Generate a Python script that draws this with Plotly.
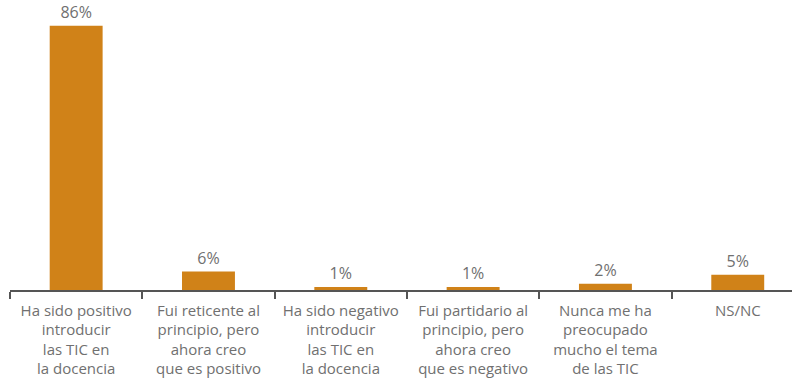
import plotly.graph_objects as go

# Opinión sobre la introducción de las TIC en la docencia
categorias = [
    "Ha sido positivo<br>introducir<br>las TIC en<br>la docencia",
    "Fui reticente al<br>principio, pero<br>ahora creo<br>que es positivo",
    "Ha sido negativo<br>introducir<br>las TIC en<br>la docencia",
    "Fui partidario al<br>principio, pero<br>ahora creo<br>que es negativo",
    "Nunca me ha<br>preocupado<br>mucho el tema<br>de las TIC",
    "NS/NC",
]
porcentajes = [86, 6, 1, 1, 2, 5]
etiquetas = [f"{v}%" for v in porcentajes]

naranja = "#D08218"
gris_texto = "#707070"

fig = go.Figure(
    go.Bar(
        x=categorias,
        y=porcentajes,
        text=etiquetas,
        textposition="outside",
        cliponaxis=False,
        marker=dict(color=naranja, line=dict(width=0)),
        width=0.4,
        textfont=dict(family="Open Sans", size=16, color=gris_texto),
    )
)

fig.update_layout(
    width=792,
    height=383,
    margin=dict(l=10, r=0, t=0, b=93),
    plot_bgcolor="white",
    paper_bgcolor="white",
    showlegend=False,
    font=dict(family="Open Sans", size=15, color=gris_texto),
)

fig.update_xaxes(
    type="category",
    range=[-0.5, 5.41],
    showline=True,
    linecolor="#555555",
    linewidth=1.5,
    ticks="outside",
    tickson="boundaries",
    ticklen=7,
    tickwidth=1.5,
    tickcolor="#555555",
    ticklabelstandoff=6,
    showgrid=False,
    tickfont=dict(family="Open Sans", size=15, color=gris_texto),
)

fig.update_yaxes(
    range=[0, 94.4],
    visible=False,
    showgrid=False,
    zeroline=False,
)

fig.write_html("out.html")
